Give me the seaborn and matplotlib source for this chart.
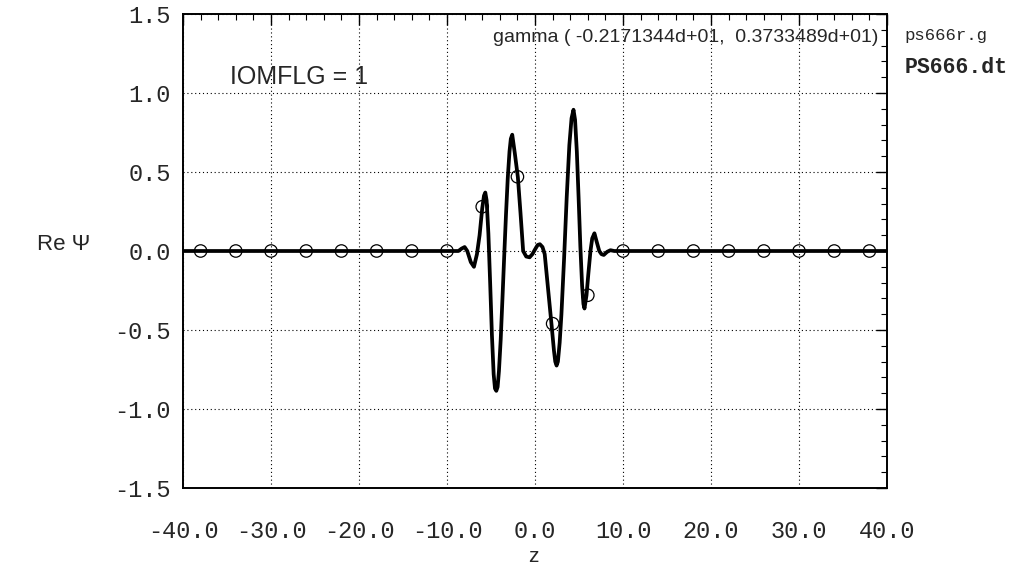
import matplotlib
matplotlib.use("Agg")
import matplotlib.pyplot as plt
from matplotlib.ticker import MultipleLocator
import seaborn as sns

# Real part of the wave function along z (solid curve)
z_curve = [-40, -9.2, -8.7, -8.35, -8.0, -7.7, -7.3, -6.94, -6.6, -6.3,
           -6.0, -5.8, -5.65, -5.5, -5.3, -5.1, -4.9, -4.7, -4.55, -4.4,
           -4.25, -4.1, -3.9, -3.7, -3.5, -3.3, -3.1, -2.9, -2.75, -2.59,
           -2.3, -1.95, -1.65, -1.35, -1.0, -0.62, -0.3, 0.0, 0.3, 0.55,
           0.85, 1.1, 1.5, 1.9, 2.15, 2.3, 2.45, 2.6, 2.8, 3.0,
           3.3, 3.6, 3.9, 4.15, 4.37, 4.55, 4.75, 4.95, 5.15, 5.35,
           5.5, 5.62, 5.85, 6.05, 6.3, 6.5, 6.75, 7.0, 7.3, 7.55,
           7.81, 8.2, 8.57, 9.0, 40]
re_psi = [0.0, 0.0, 0.0, 0.015, 0.025, 0.0, -0.07, -0.10, -0.02, 0.10,
          0.27, 0.35, 0.37, 0.32, 0.11, -0.20, -0.53, -0.78, -0.87, -0.885,
          -0.86, -0.76, -0.56, -0.30, -0.03, 0.23, 0.46, 0.63, 0.71, 0.736,
          0.62, 0.467, 0.24, 0.0, -0.035, -0.04, -0.02, 0.01, 0.038, 0.043,
          0.025, -0.02, -0.25, -0.48, -0.63, -0.70, -0.725, -0.70, -0.58, -0.40,
          -0.05, 0.34, 0.67, 0.84, 0.894, 0.83, 0.63, 0.34, 0.03, -0.22,
          -0.335, -0.364, -0.28, -0.15, 0.0, 0.08, 0.112, 0.06, 0.0, -0.02,
          -0.025, -0.005, 0.005, 0.0, 0.0]

# Grid-point samples (open circles)
z_pts = [-38, -34, -30, -26, -22, -18, -14, -10, -6, -2,
         2, 6, 10, 14, 18, 22, 26, 30, 34, 38]
re_pts = [0.0, 0.0, 0.0, 0.0, 0.0, 0.0, 0.0, 0.0, 0.28, 0.47,
          -0.46, -0.28, 0.0, 0.0, 0.0, 0.0, 0.0, 0.0, 0.0, 0.0]

x_ticks = [-40, -30, -20, -10, 0, 10, 20, 30, 40]
x_labels = ["-40.0", "-30.0", "-20.0", "-10.0", "0.0", "10.0", "20.0", "30.0", "40.0"]
y_ticks = [-1.5, -1.0, -0.5, 0.0, 0.5, 1.0, 1.5]
y_labels = ["-1.5", "-1.0", "-0.5", "0.0", "0.5", "1.0", "1.5"]

sns.set_style("white")
plt.rcParams["font.family"] = ["Liberation Sans", "DejaVu Sans"]

fig = plt.figure(figsize=(10.19, 5.68), dpi=100)
ax = fig.add_axes([0.1796, 0.1408, 0.6909, 0.8346])

sns.lineplot(x=z_curve, y=re_psi, ax=ax, color="black", linewidth=2.7,
             sort=False, estimator=None)
sns.scatterplot(x=z_pts, y=re_pts, ax=ax, marker="o", s=80,
                facecolor="none", edgecolor="black", linewidth=0.9, zorder=3)

ax.set_xlim(-40, 40)
ax.set_ylim(-1.5, 1.5)
ax.set_xticks(x_ticks)
ax.set_xticklabels(x_labels)
ax.set_yticks(y_ticks)
ax.set_yticklabels(y_labels)
ax.xaxis.set_minor_locator(MultipleLocator(2))
ax.yaxis.set_minor_locator(MultipleLocator(0.1))

for lab in ax.get_xticklabels() + ax.get_yticklabels():
    lab.set_fontfamily("Liberation Mono")
    lab.set_fontsize(17)

ax.tick_params(which="major", direction="in", length=8, width=1.0,
               top=True, right=True, color="black")
ax.tick_params(which="minor", direction="in", length=4.5, width=0.8,
               top=True, right=True, color="black")
ax.tick_params(axis="x", which="major", pad=23)
ax.tick_params(axis="y", which="major", pad=9)

ax.grid(True, which="major", color="black", linestyle=(0, (1, 2.5)), linewidth=0.8)
for sp in ax.spines.values():
    sp.set_visible(True)
    sp.set_color("black")
    sp.set_linewidth(1.4)

ax.set_xlabel("z", fontsize=15)
ax.xaxis.set_label_coords(0.497, -0.155)
ax.xaxis.label.set_va("baseline")
ax.set_ylabel("Re \u03a8", fontsize=16, rotation=0, va="center", ha="center")
ax.yaxis.set_label_coords(-0.17, 0.513)

ax.text(0.067, 0.867, "IOMFLG = 1", transform=ax.transAxes, fontsize=18,
        ha="left", va="center")
ax.text(0.987, 0.951, "gamma ( -0.2171344d+01,  0.3733489d+01)",
        transform=ax.transAxes, fontsize=14, ha="right", va="center")

fig.text(0.888, 0.938, "ps666r.g", fontfamily="Liberation Mono", fontsize=12.5,
         ha="left", va="center")
fig.text(0.888, 0.882, "PS666.dt", fontfamily="Liberation Mono", fontsize=15.5,
         fontweight="bold", ha="left", va="center")

fig.savefig("out.png", dpi=100)
